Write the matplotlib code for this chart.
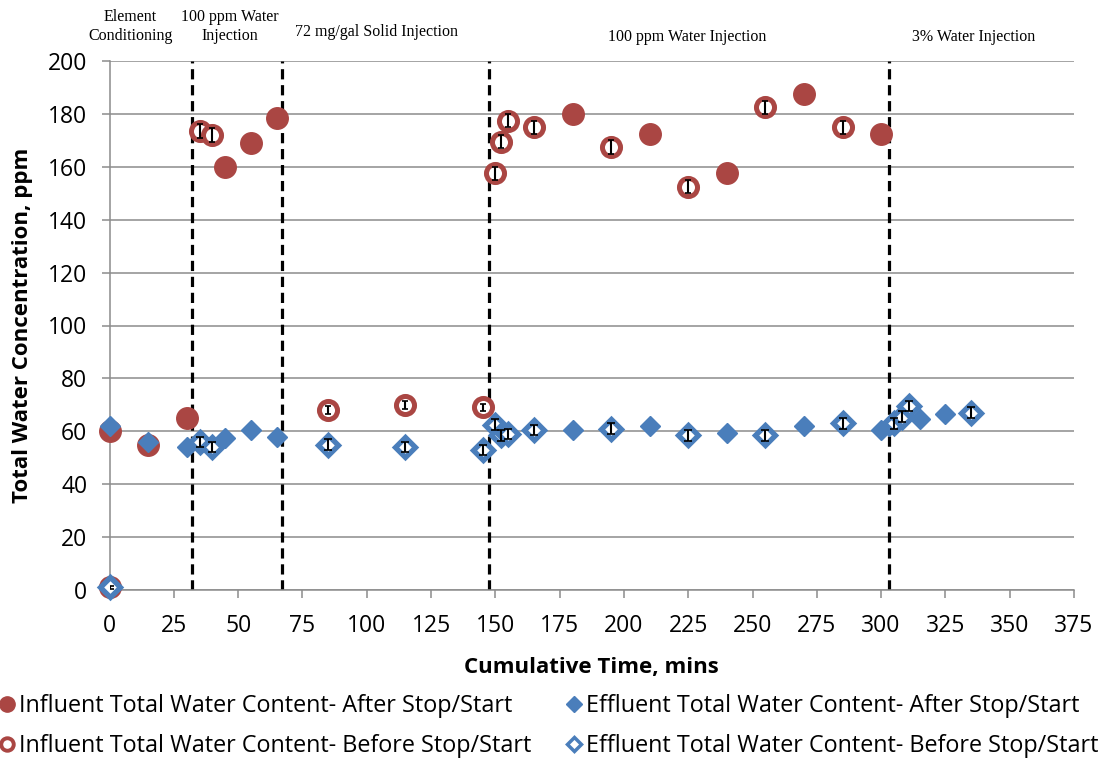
import matplotlib
matplotlib.use("Agg")
import matplotlib.pyplot as plt
from matplotlib import font_manager
from matplotlib.lines import Line2D

# ---------------- data ----------------
infl_after_x = [0, 15, 30, 45, 55, 65, 180, 210, 240, 270, 300]
infl_after_y = [60, 55, 65, 160, 169, 178.5, 180, 172.5, 157.5, 187.5, 172.5]

infl_before_x = [0, 35, 40, 85, 115, 145, 150, 152, 155, 165, 195, 225, 255, 285]
infl_before_y = [1, 173.5, 172, 68, 70, 69, 157.5, 169.5, 177.5, 175, 167.5, 152.5, 182.5, 175]
infl_before_err = [0.5, 2.5, 2.5, 1.5, 1.5, 1.5, 2.5, 2.5, 2.5, 2.5, 2.5, 2.5, 2.5, 2.5]

eff_after_x = [0, 15, 30, 45, 55, 65, 180, 210, 240, 270, 300, 303, 315, 325]
eff_after_y = [62, 56, 54, 57.5, 60.5, 58, 60.5, 62, 59.5, 62, 60.5, 62, 64.5, 66.5]

eff_before_x = [0, 35, 40, 85, 115, 145, 150, 152, 155, 165, 195, 225, 255, 285, 305, 308, 311, 335]
eff_before_y = [1, 56, 54, 55, 54, 53, 62.5, 58.5, 59, 60.5, 61, 58.5, 58.5, 63, 63, 65.5, 69.5, 67]
eff_before_err = [0.5, 2, 2, 2, 2, 2, 2, 2, 2, 2, 2, 2, 2, 2, 2, 2, 2, 2]

phase_lines = [32, 67, 147.5, 303]
phase_labels = ["Element\nConditioning", "100 ppm Water\nInjection",
                "72 mg/gal Solid Injection", "100 ppm Water Injection",
                "3% Water Injection"]
phase_label_x = [8, 46.8, 103.6, 224.7, 336]
phase_label_y = [1.0652, 1.0652, 1.0548, 1.0454, 1.0454]

legend_labels = ["Influent Total Water Content- After Stop/Start",
                 "Influent Total Water Content- Before Stop/Start",
                 "Effluent Total Water Content- After Stop/Start",
                 "Effluent Total Water Content- Before Stop/Start"]

# ---------------- fonts ----------------
avail = {f.name for f in font_manager.fontManager.ttflist}
def pick(cands):
    for c in cands:
        if c in avail:
            return c
    return "DejaVu Sans"
sans = pick(["Liberation Sans Narrow", "Open Sans", "Noto Sans", "Liberation Sans"])
serif = pick(["Liberation Serif", "DejaVu Serif"])
plt.rcParams['font.family'] = [sans, 'DejaVu Sans']

RED = '#AA4643'
BLUE = '#4A7EBB'
GRID = '#8C8C8C'

fig = plt.figure(figsize=(11.02, 7.61), dpi=100)
ax = fig.add_axes([109.6 / 1102, 1 - 590 / 761, (1074 - 109.6) / 1102, (590 - 61) / 761])

ax.set_xlim(0, 375)
ax.set_ylim(0, 200)
ax.set_xticks(range(0, 376, 25))
ax.set_yticks(range(0, 201, 20))
ax.yaxis.grid(True, color=GRID, lw=1.1)
ax.set_axisbelow(True)
for s in ['top', 'right']:
    ax.spines[s].set_visible(False)
for s in ['left', 'bottom']:
    ax.spines[s].set_color(GRID)
    ax.spines[s].set_linewidth(1.1)
ax.tick_params(axis='both', direction='out', length=6, width=1.1, color=GRID,
               labelsize=16.5)
ax.tick_params(axis='y', pad=10)
ax.tick_params(axis='x', pad=11)

for xv in phase_lines:
    ax.axvline(xv, color='black', lw=2.3, ls=(0, (3.2, 1.8)), zorder=2)

# influent after (filled circles)
ax.plot(infl_after_x, infl_after_y, 'o', ms=15.5, color=RED, mec=RED, ls='none',
        zorder=3, clip_on=False)
# influent before (open circles)
ax.plot(infl_before_x, infl_before_y, 'o', ms=13, mfc='white', mec=RED, mew=3.6,
        ls='none', zorder=3, clip_on=False)
ax.errorbar(infl_before_x, infl_before_y, yerr=infl_before_err, fmt='none', ecolor='black',
            elinewidth=1.5, capsize=2.5, capthick=1.2, zorder=4)
# effluent after (filled diamonds)
ax.plot(eff_after_x, eff_after_y, 'D', ms=10.5, color=BLUE, mec=BLUE, ls='none',
        zorder=5, clip_on=False)
# effluent before (open diamonds)
ax.plot(eff_before_x, eff_before_y, 'D', ms=10, mfc='white', mec=BLUE, mew=3.8,
        ls='none', zorder=5, clip_on=False)
ax.errorbar(eff_before_x, eff_before_y, yerr=eff_before_err, fmt='none', ecolor='black',
            elinewidth=1.5, capsize=3, capthick=1.2, zorder=6)

ax.set_ylabel("Total Water Concentration, ppm", fontsize=16, fontweight='bold', labelpad=11)
ax.set_xlabel("Cumulative Time, mins", fontsize=16, fontweight='bold', labelpad=14)

# phase annotations
for lbl, xv, yv in zip(phase_labels, phase_label_x, phase_label_y):
    ax.text(xv, yv, lbl, transform=ax.get_xaxis_transform(),
            ha='center', va='center', fontsize=11.5, family=serif, linespacing=1.2)

# legend
lh1 = Line2D([], [], marker='o', ms=11, color=RED, ls='none')
lh2 = Line2D([], [], marker='o', ms=9, mfc='white', mec=RED, mew=2.8, ls='none')
lh3 = Line2D([], [], marker='D', ms=8, color=BLUE, ls='none')
lh4 = Line2D([], [], marker='D', ms=7, mfc='white', mec=BLUE, mew=2.5, ls='none')
fig.legend([lh1, lh2, lh3, lh4], legend_labels, ncol=2, loc='center left',
           bbox_to_anchor=(-0.019, 0.046), frameon=False, fontsize=16.8,
           handlelength=0.6, handletextpad=0.2, columnspacing=1.55, labelspacing=0.7)

fig.savefig("out.png", dpi=100)
